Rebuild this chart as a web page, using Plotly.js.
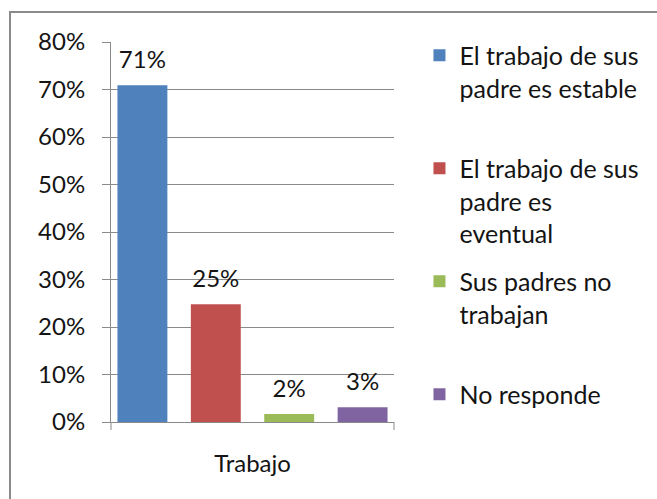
<!DOCTYPE html>
<html>
<head>
<meta charset="utf-8">
<script src="https://cdn.plot.ly/plotly-3.0.1.min.js"></script>
<style>
  html, body { margin: 0; padding: 0; background: #fff; }
  #wrap { position: relative; width: 657px; height: 499px; overflow: hidden; }
  #chart { position: absolute; left: 0; top: 0; width: 657px; height: 499px; }
  #frame { position: absolute; left: 9px; top: 11px; width: 700px; height: 600px;
           border-left: 2px solid #8a8a8a; border-top: 2px solid #8a8a8a; pointer-events: none; }
</style>
</head>
<body>
<div id="wrap">
  <div id="chart"></div>
  <div id="frame"></div>
</div>
<script>
// ---- data ----
const categories = ['Trabajo'];
const seriesNames = [
  'El trabajo de sus<br>padre es estable',
  'El trabajo de sus<br>padre es<br>eventual',
  'Sus padres no<br>trabajan',
  'No responde'
];
const seriesValues = [0.709, 0.248, 0.017, 0.031];
const seriesColors = ['#4F81BD', '#C0504D', '#9BBB59', '#8064A2'];
const yTickVals = [0, 0.1, 0.2, 0.3, 0.4, 0.5, 0.6, 0.7, 0.8];

// ---- style ----
const FONT = 'Lato, "Open Sans", sans-serif';
const TXT = '#141414';
const GRID = '#8a8a8a';
const LEGEND_LINES = 3;

function padLines(name) {
  const n = name.split('<br>').length;
  let s = name;
  for (let i = n; i < LEGEND_LINES; i++) s += '<br> ';
  return s;
}

const traces = [];
seriesNames.forEach((name, i) => {
  traces.push({
    type: 'bar',
    x: categories,
    y: [seriesValues[i]],
    name: i < seriesNames.length - 1 ? padLines(name) : name,
    legendgroup: 'g' + i,
    offsetgroup: 'o' + i,
    marker: { color: seriesColors[i], line: { width: 0 } },
    hoverinfo: 'skip'
  });
});
seriesNames.forEach((name, i) => {
  traces.push({
    type: 'scatter',
    x: categories,
    y: [seriesValues[i]],
    mode: 'markers+text',
    offsetgroup: 'o' + i,
    marker: { size: 16, opacity: 0, color: seriesColors[i] },
    texttemplate: '%{y:.0%}',
    textposition: 'top center',
    textfont: { family: FONT, size: 24, color: TXT },
    cliponaxis: false,
    showlegend: false,
    hoverinfo: 'skip'
  });
});

// category-boundary tick marks on the x axis (Excel style)
const boundaryTicks = [0, 1].map(px => ({
  type: 'line',
  xref: 'paper', yref: 'paper',
  x0: px, x1: px,
  ysizemode: 'pixel', yanchor: 0,
  y0: 0, y1: -8,
  line: { color: GRID, width: 1 }
}));

const layout = {
  width: 657,
  height: 499,
  margin: { l: 111, r: 256, t: 42, b: 77, pad: 0 },
  paper_bgcolor: '#ffffff',
  plot_bgcolor: '#ffffff',
  font: { family: FONT, color: TXT, size: 24 },
  barmode: 'group',
  bargap: 0,
  bargroupgap: 0.32,
  scattermode: 'group',
  scattergap: 0,
  showlegend: true,
  shapes: boundaryTicks,
  xaxis: {
    type: 'category',
    range: [-0.482, 0.482],
    showline: true,
    linecolor: GRID,
    linewidth: 1,
    ticks: '',
    showgrid: false,
    zeroline: false,
    tickfont: { family: FONT, size: 24, color: TXT },
    ticklabelstandoff: 20,
    fixedrange: true
  },
  yaxis: {
    range: [0, 0.8],
    tickvals: yTickVals,
    tickformat: '.0%',
    showline: true,
    linecolor: GRID,
    linewidth: 1,
    ticks: 'outside',
    ticklen: 8,
    tickcolor: GRID,
    tickwidth: 1,
    showgrid: true,
    gridcolor: GRID,
    gridwidth: 1,
    zeroline: false,
    tickfont: { family: FONT, size: 24, color: TXT },
    ticklabelstandoff: 12,
    fixedrange: true
  },
  legend: {
    x: 1.09,
    xanchor: 'left',
    y: 1.025,
    yanchor: 'top',
    valign: 'top',
    traceorder: 'grouped',
    tracegroupgap: 12.5,
    maxheight: 1000,
    font: { family: FONT, size: 25, color: TXT },
    bgcolor: 'rgba(0,0,0,0)',
    borderwidth: 0
  }
};

Plotly.newPlot('chart', traces, layout, { staticPlot: true, displayModeBar: false });
</script>
</body>
</html>
